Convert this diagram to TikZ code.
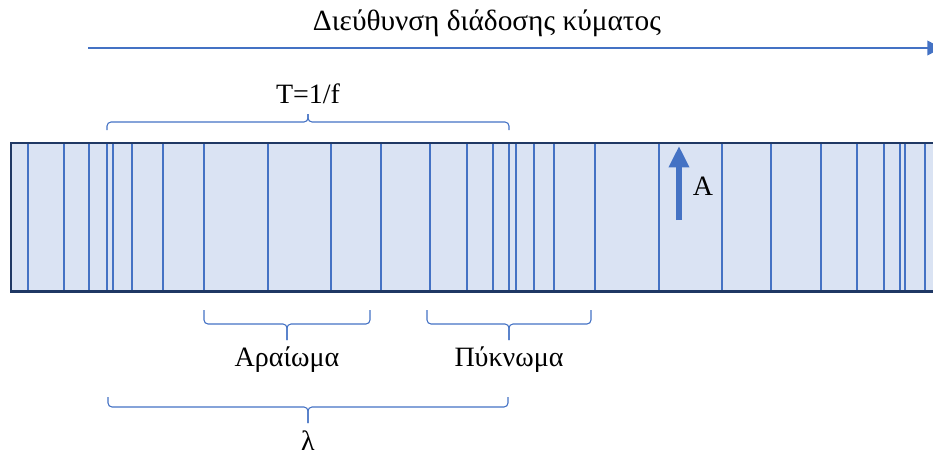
\documentclass[tikz,border=0pt]{standalone}
\usepackage{fontspec}
\setmainfont{Liberation Serif}
\usepackage{xcolor}
\usepackage{tikz}
\usetikzlibrary{arrows.meta, positioning, calc}
\definecolor{wblue}{RGB}{68, 114, 196}
\definecolor{tubefill}{RGB}{218, 227, 243}
\definecolor{tubeedge}{RGB}{31, 56, 100}

% brace with ends at y=#3, bar at y=#4, tip at y=#5
\newcommand{\wbrace}[5]{%
  \draw[bracket] (#1,#3) -- (#1,#4) -- ($(#1,#4)!0.5!(#2,#4)$) -- ($(#1,#5)!0.5!(#2,#5)$);
  \draw[bracket] (#2,#3) -- (#2,#4) -- ($(#1,#4)!0.5!(#2,#4)$) -- ($(#1,#5)!0.5!(#2,#5)$);}

\begin{document}
\begin{tikzpicture}[
        x=0.75pt, y=-0.75pt,
        tube/.style={rectangle, fill=tubefill, inner sep=0pt,
                    minimum width=705pt, minimum height=111pt},
        border/.style={draw=tubeedge, line width=2pt},
        front/.style={wblue, line width=1pt},
        bracket/.style={wblue, line width=0.8pt, rounded corners=3pt},
        dirarr/.style={-{Triangle[width=11pt, length=11pt]}, wblue, line width=1pt},
        amparr/.style={-{Triangle[width=14.5pt, length=16pt]}, wblue, line width=4.5pt},
        lbl/.style={font=\fontsize{21}{24}\selectfont, inner sep=0pt}
      ]
        \useasboundingbox (0,0) rectangle (933,458);

        % direction of propagation
        \node[lbl, font=\fontsize{22}{26}\selectfont] (title) at (487,23) {Διεύθυνση διάδοσης κύματος};
        \coordinate (dirstart) at (88,48);
        \coordinate (dirend) at (942,48);
        \draw[dirarr] (dirstart) -- (dirend);

        % the tube with the wave fronts
        \node[tube, anchor=north west] (tube) at (11,143) {};
        \foreach \x in {28,64,89,107,113,132,163,204,268,331,381,430,467,493,
                        509,516,534,554,595,659,722,771,821,857,884,900,905,925}
          \draw[front] (\x,0 |- tube.north) -- (\x,0 |- tube.south);
        \draw[border] (tube.north east) -- (tube.north west)
              -- (tube.south west) -- (tube.south east);

        % amplitude
        \coordinate (ampfoot) at (679,220);
        \coordinate (amptip) at (679,146);
        \draw[amparr] (ampfoot) -- (amptip);
        \node[lbl] (amp) at (703,186) {A};

        % braces
        \wbrace{107}{509}{130}{122}{114}
        \node[lbl] (period) at (308,94) {T=1/f};

        \wbrace{204}{370}{310}{324}{340}
        \node[lbl] (rare) at (287,360) {Αραίωμα};

        \wbrace{427}{591}{310}{324}{340}
        \node[lbl] (dense) at (509,360) {Πύκνωμα};

        \wbrace{108}{508}{397}{407}{423}
        \node[lbl] (wavelength) at (308,441) {λ};
      \end{tikzpicture}
\end{document}
